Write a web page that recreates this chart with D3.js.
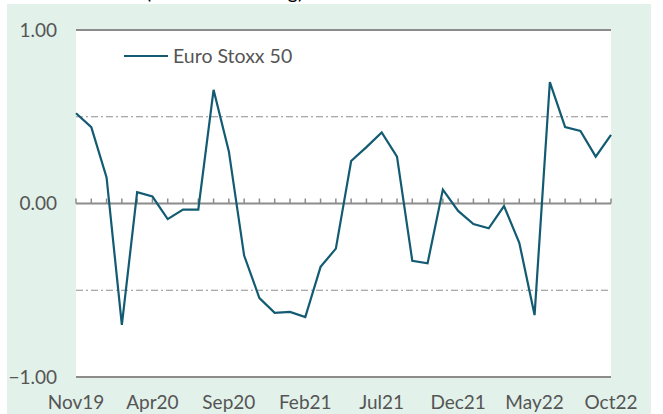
<!DOCTYPE html>
<html>
<head>
<meta charset="utf-8">
<script src="https://cdn.jsdelivr.net/npm/d3@7"></script>
<style>
  body { margin: 0; background: #fff; }
  svg { display: block; font-family: Lato, "Open Sans", sans-serif; }
</style>
</head>
<body>
<div id="chart"></div>
<script>
// monthly observations Nov19 .. Oct22
const months = ["Nov19","Dec19","Jan20","Feb20","Mar20","Apr20","May20","Jun20","Jul20","Aug20","Sep20","Oct20",
  "Nov20","Dec20","Jan21","Feb21","Mar21","Apr21","May21","Jun21","Jul21","Aug21","Sep21","Oct21",
  "Nov21","Dec21","Jan22","Feb22","Mar22","Apr22","May22","Jun22","Jul22","Aug22","Sep22","Oct22"];
const stoxx = [0.52, 0.44, 0.15, -0.70, 0.065, 0.04, -0.09, -0.035, -0.035, 0.655, 0.30, -0.30,
  -0.545, -0.63, -0.625, -0.655, -0.365, -0.26, 0.245, 0.325, 0.41, 0.27, -0.33, -0.345,
  0.08, -0.043, -0.118, -0.143, -0.015, -0.226, -0.643, 0.70, 0.44, 0.418, 0.27, 0.395];
const tickLabels = ["Nov19","Apr20","Sep20","Feb21","Jul21","Dec21","May22","Oct22"];
const yTicks = [-1, 0, 1];
const refLines = [-0.5, 0.5];
const seriesName = "Euro Stoxx 50";

const W = 663, H = 414;
const margin = { top: 30, right: 52, bottom: 37, left: 76 };
const width = W - margin.left - margin.right,
  height = H - margin.top - margin.bottom;

const svg = d3.select("#chart").append("svg")
  .attr("width", W).attr("height", H);

// title sits mostly above the picture, only its descenders show
svg.append("text")
  .attr("x", 42).attr("y", -1)
  .attr("font-size", 20).attr("fill", "#000")
  .text("Correlation (12-month rolling)");

// green panel
svg.append("rect")
  .attr("x", 7).attr("y", 4).attr("width", 644).attr("height", H - 4)
  .attr("fill", "#e2f1e9");

const g = svg.append("g").attr("transform", `translate(${margin.left},${margin.top})`);

g.append("rect").attr("width", width).attr("height", height).attr("fill", "#fff");

const x = d3.scalePoint().domain(months).range([0, width]);
const y = d3.scaleLinear().domain([-1, 1]).range([height, 0]);

// dash-dot reference lines
g.selectAll(".ref").data(refLines).join("line")
  .attr("x1", 0).attr("x2", width)
  .attr("y1", d => y(d)).attr("y2", d => y(d))
  .attr("stroke", "#8f8f8f").attr("stroke-width", 1.2)
  .attr("stroke-dasharray", "7,3,2,3");

// solid horizontal lines at -1, 0, 1
g.selectAll(".hl").data(yTicks).join("line")
  .attr("x1", 0).attr("x2", width)
  .attr("y1", d => y(d)).attr("y2", d => y(d))
  .attr("stroke", "#8c8c8c").attr("stroke-width", 2);

// tick marks on the zero line
g.selectAll(".tk").data(months).join("line")
  .attr("x1", d => x(d)).attr("x2", d => x(d))
  .attr("y1", y(0)).attr("y2", y(0) - 5)
  .attr("stroke", "#8c8c8c").attr("stroke-width", 1.5);

// y labels
g.selectAll(".yl").data(yTicks).join("text")
  .attr("x", -19).attr("y", d => y(d)).attr("dy", "0.35em")
  .attr("text-anchor", "end").attr("font-size", 19).attr("fill", "#555")
  .text(d3.format(".2f"));

// x labels
g.selectAll(".xl").data(tickLabels).join("text")
  .attr("x", d => x(d)).attr("y", height + 32)
  .attr("text-anchor", "middle").attr("font-size", 19).attr("fill", "#555")
  .text(d => d);

// the line
g.append("path")
  .datum(stoxx)
  .attr("fill", "none")
  .attr("stroke", "#125b73")
  .attr("stroke-width", 2.2)
  .attr("d", d3.line().x((d, i) => x(months[i])).y(d => y(d)));

// legend
const lg = g.append("g").attr("transform", "translate(48,26)");
lg.append("line").attr("x1", 0).attr("x2", 44).attr("stroke", "#125b73").attr("stroke-width", 2.2);
lg.append("text").attr("x", 49).attr("dy", "0.35em")
  .attr("font-size", 19.5).attr("fill", "#555").text(seriesName);
</script>
</body>
</html>
